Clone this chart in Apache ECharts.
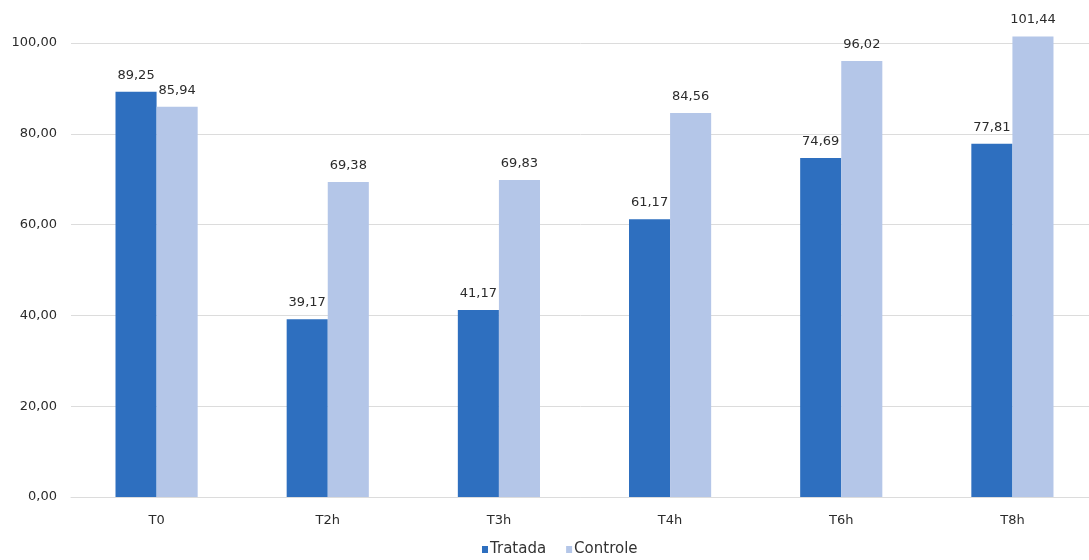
<!DOCTYPE html>
<html>
<head>
<meta charset="utf-8">
<script src="https://cdn.jsdelivr.net/npm/echarts@6/dist/echarts.min.js"></script>
<style>
html,body{margin:0;padding:0;background:#fff;}
#chart{width:1089px;height:560px;}
</style>
</head>
<body>
<div id="chart"></div>
<script>
const categories = ['T0','T2h','T3h','T4h','T6h','T8h'];
const tratada = [89.25, 39.17, 41.17, 61.17, 74.69, 77.81];
const controle = [85.94, 69.38, 69.83, 84.56, 96.02, 101.44];
const seriesNames = ['Tratada','Controle'];

const fmt = v => v.toFixed(2).replace('.', ',');
const font = 'DejaVu Sans';

const chart = echarts.init(document.getElementById('chart'));
chart.setOption({
  animation: false,
  textStyle: {fontFamily: font},
  grid: {left: 71, top: 43, width: 1027, bottom: 63, containLabel: false, outerBoundsMode: 'none'},
  legend: {
    data: seriesNames,
    top: 542,
    left: 482,
    icon: 'rect',
    itemWidth: 6,
    itemHeight: 7,
    itemGap: 20,
    padding: 0,
    textStyle: {fontFamily: font, fontSize: 15, color: '#333', padding: [0,0,0,-3]}
  },
  xAxis: {
    type: 'category',
    data: categories,
    axisLine: {show: true, lineStyle: {color: '#dcdcdc'}},
    axisTick: {show: false},
    axisLabel: {fontFamily: font, fontSize: 13, color: '#2b2b2b', margin: 17}
  },
  yAxis: {
    type: 'value',
    min: 0, max: 100, interval: 20,
    axisLine: {show: false},
    axisTick: {show: false},
    splitLine: {lineStyle: {color: '#dcdcdc'}},
    axisLabel: {fontFamily: font, fontSize: 13, color: '#2b2b2b', margin: 14, formatter: v => fmt(v)}
  },
  series: [
    {
      name: seriesNames[0], type: 'bar', data: tratada, clip: false,
      barGap: '0%', barCategoryGap: '52%',
      itemStyle: {color: '#2e6fbf'},
      label: {show: true, position: 'top', distance: 10, fontFamily: font, fontSize: 13, color: '#2b2b2b', formatter: p => fmt(p.value)}
    },
    {
      name: seriesNames[1], type: 'bar', data: controle, clip: false,
      barGap: '0%', barCategoryGap: '52%',
      itemStyle: {color: '#b4c6e8'},
      label: {show: true, position: 'top', distance: 10, fontFamily: font, fontSize: 13, color: '#2b2b2b', formatter: p => fmt(p.value)}
    }
  ]
});
</script>
</body>
</html>
